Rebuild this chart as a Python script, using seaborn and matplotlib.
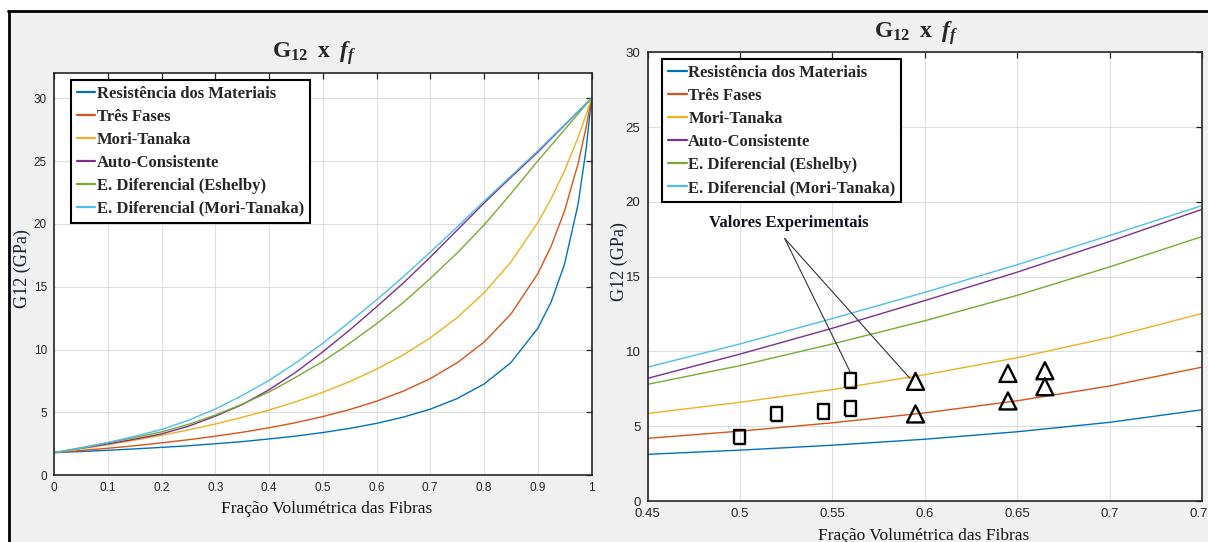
import pandas as pd
import seaborn as sns
import matplotlib.pyplot as plt
from matplotlib.lines import Line2D
from matplotlib.patches import Rectangle

# fibre volume fraction
frac = [0, 0.05, 0.1, 0.15, 0.2, 0.25, 0.3, 0.35, 0.4, 0.45, 0.5, 0.55, 0.6,
        0.65, 0.7, 0.75, 0.8, 0.85, 0.9, 0.925, 0.95, 0.975, 0.99, 1.0]

# G12 (GPa) for each model
res_mat = [1.80, 1.89, 1.99, 2.10, 2.22, 2.35, 2.51, 2.68, 2.89, 3.12, 3.40, 3.73,
           4.13, 4.63, 5.26, 6.10, 7.26, 8.96, 11.69, 13.79, 16.82, 21.56, 25.94, 30.0]
tres_fases = [1.80, 1.97, 2.15, 2.35, 2.58, 2.83, 3.11, 3.42, 3.78, 4.19, 4.67, 5.23,
              5.89, 6.70, 7.69, 8.95, 10.59, 12.82, 16.03, 18.23, 21.05, 24.79, 27.69, 30.0]
mori_tanaka = [1.80, 2.10, 2.43, 2.79, 3.18, 3.61, 4.08, 4.61, 5.19, 5.85, 6.60, 7.45,
               8.44, 9.58, 10.93, 12.54, 14.51, 16.96, 20.09, 22.01, 24.24, 26.87, 28.68, 30.0]
auto_cons = [1.80, 2.15, 2.50, 2.87, 3.29, 3.90, 4.70, 5.62, 6.80, 8.20, 9.82, 11.55,
             13.40, 15.30, 17.35, 19.50, 21.65, 23.70, 25.70, 26.78, 27.85, 28.93, 29.57, 30.0]
dif_eshelby = [1.80, 2.20, 2.60, 3.00, 3.45, 4.05, 4.79, 5.65, 6.63, 7.80, 9.05, 10.50,
               12.05, 13.75, 15.65, 17.68, 19.90, 22.40, 25.00, 26.25, 27.50, 28.75, 29.50, 30.0]
dif_mt = [1.80, 2.15, 2.60, 3.10, 3.64, 4.37, 5.27, 6.35, 7.54, 8.95, 10.50, 12.20,
          13.95, 15.80, 17.75, 19.75, 21.80, 23.80, 25.80, 26.85, 27.90, 28.95, 29.58, 30.0]

models = ['Resistência dos Materiais', 'Três Fases', 'Mori-Tanaka', 'Auto-Consistente',
          'E. Diferencial (Eshelby)', 'E. Diferencial (Mori-Tanaka)']
colors = ['#0072BD', '#D95319', '#EDB120', '#7E2F8E', '#77AC30', '#4DBEEE']

# experimental values
exp_sq_x = [0.50, 0.52, 0.545, 0.56, 0.56]
exp_sq_y = [4.27, 5.82, 5.98, 6.18, 8.04]
exp_tri_x = [0.595, 0.595, 0.645, 0.645, 0.665, 0.665]
exp_tri_y = [8.00, 5.82, 8.53, 6.69, 8.71, 7.64]

series = [res_mat, tres_fases, mori_tanaka, auto_cons, dif_eshelby, dif_mt]
df = pd.concat([pd.DataFrame({'f': frac, 'G': s, 'modelo': m}) for m, s in zip(models, series)])

sns.set_theme(style='white')
plt.rcParams['font.family'] = ['Liberation Sans', 'DejaVu Sans']
plt.rcParams['mathtext.fontset'] = 'custom'
plt.rcParams['mathtext.rm'] = 'Liberation Serif:bold'
plt.rcParams['mathtext.bf'] = 'Liberation Serif:bold'
plt.rcParams['mathtext.it'] = 'Liberation Serif:italic:bold'

W, H = 1208, 542
fig = plt.figure(figsize=(W / 100, H / 100), dpi=100, facecolor='#f0f0f0')

# white margin and black frame at top / left
fig.patches.append(Rectangle((0, 1 - 11 / H), 1, 11 / H, transform=fig.transFigure,
                             color='white', zorder=0))
fig.patches.append(Rectangle((0, 0), 8 / W, 1, transform=fig.transFigure,
                             color='white', zorder=0))
fig.add_artist(Line2D([8 / W, 1], [1 - 11 / H] * 2, color='black', lw=2, transform=fig.transFigure))
fig.add_artist(Line2D([9 / W] * 2, [0, 1 - 11 / H], color='black', lw=2, transform=fig.transFigure))

ax1 = fig.add_axes([54 / W, 1 - 475.3 / H, 537.5 / W, (475.3 - 73) / H])
ax2 = fig.add_axes([647.5 / W, 1 - 501 / H, 554.5 / W, (501 - 52.3) / H])

serif = 'Liberation Serif'
title = r'$\mathbf{G}_{\mathbf{12}}\;\;\mathbf{x}\;\;f_{f}$'
leg_kw = dict(loc='upper left', borderaxespad=0, fancybox=False, edgecolor='black',
              framealpha=1, handlelength=1.1, handletextpad=0.1, labelspacing=0.42,
              borderpad=0.35, prop={'family': serif, 'weight': 'bold', 'size': 12})


def draw(ax, xticks, ylim, fs):
    sns.lineplot(data=df, x='f', y='G', hue='modelo', hue_order=models, palette=colors,
                 estimator=None, sort=False, lw=1.0, legend=False, ax=ax)
    ax.set_xlim(xticks[0], xticks[-1])
    ax.set_ylim(*ylim)
    ax.set_xticks(xticks)
    ax.set_xticklabels([f'{t:g}' for t in xticks])
    ax.set_yticks(range(0, 31, 5))
    ax.set_facecolor('white')
    ax.grid(True, color='#dedede', lw=0.8)
    ax.tick_params(direction='in', top=True, right=True, length=4, width=0.9,
                   color='#262626', labelcolor='#262626', labelsize=fs, pad=5)
    for sp in ax.spines.values():
        sp.set_color('#262626')
        sp.set_linewidth(1.2)
    handles = [Line2D([], [], color=c, lw=1.6) for c in colors]
    return handles


h = draw(ax1, [round(0.1 * i, 1) for i in range(11)], (0, 32), 8.5)
leg = ax1.legend(h, models, bbox_to_anchor=(0.0316, 0.9826), **leg_kw)
leg.get_frame().set_linewidth(1.5)
ax1.text(0.484, 1.05, title, transform=ax1.transAxes, ha='center', va='center', fontsize=17)
ax1.set_xlabel('Fração Volumétrica das Fibras', fontfamily=serif, fontsize=12.5, color='#111111')
ax1.set_ylabel('G12 (GPa)', fontfamily=serif, fontsize=13, color='#1a1f36')
ax1.xaxis.set_label_coords(0.508, -0.064)
ax1.yaxis.set_label_coords(-0.043, 0.513)

h = draw(ax2, [0.45, 0.5, 0.55, 0.6, 0.65, 0.7, 0.75], (0, 30), 9.5)
sns.scatterplot(x=exp_sq_x, y=exp_sq_y, ax=ax2,
                marker=[(-0.75, -1), (0.75, -1), (0.75, 1), (-0.75, 1), (-0.75, -1)],
                s=110, facecolor='none', edgecolor='black', linewidth=1.7, zorder=5)
sns.scatterplot(x=exp_tri_x, y=exp_tri_y, ax=ax2, marker='^', s=150,
                facecolor='none', edgecolor='black', linewidth=1.7, zorder=5)
leg = ax2.legend(h, models, bbox_to_anchor=(0.027, 0.9844), **leg_kw)
leg.get_frame().set_linewidth(1.5)
ax2.text(0.4855, 1.043, title, transform=ax2.transAxes, ha='center', va='center', fontsize=17)
ax2.set_xlabel('Fração Volumétrica das Fibras', fontfamily=serif, fontsize=12.5, color='#111111')
ax2.set_ylabel('G12 (GPa)', fontfamily=serif, fontsize=13, color='#1a1f36')
ax2.xaxis.set_label_coords(0.4986, -0.060)
ax2.yaxis.set_label_coords(-0.035, 0.533)

# annotation for the experimental points
label_xy = (0.5265, 18.6)
start_xy = (0.5242, 17.56)
ax2.text(*label_xy, 'Valores Experimentais', ha='center', va='center', fontfamily=serif,
         fontweight='bold', fontsize=12, color='#111122', zorder=6)
for px, py in [(exp_sq_x[4], exp_sq_y[4] + 0.5), (exp_tri_x[0] - 0.003, exp_tri_y[0] + 0.2)]:
    ax2.annotate('', xy=(px, py), xytext=start_xy,
                 arrowprops=dict(arrowstyle='-', color='#333333', lw=0.8, shrinkA=0, shrinkB=0))

fig.savefig('out.png', dpi=100, facecolor=fig.get_facecolor())
